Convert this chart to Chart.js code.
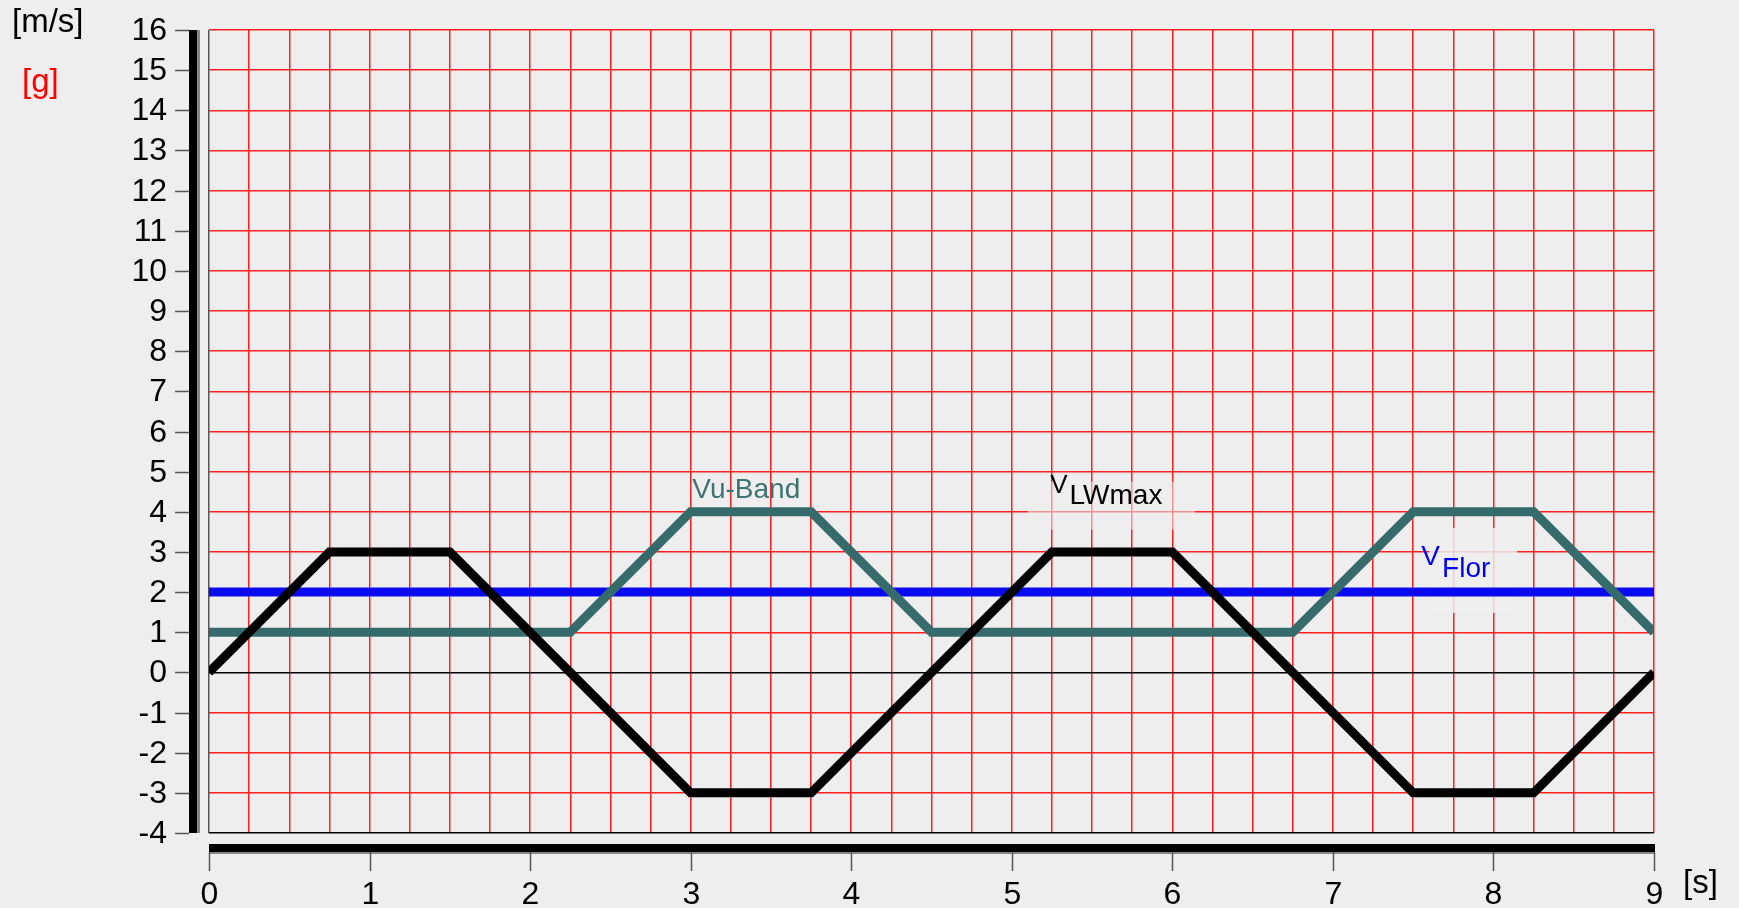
<!DOCTYPE html>
<html>
<head>
<meta charset="utf-8">
<script src="https://cdn.jsdelivr.net/npm/chart.js@4/dist/chart.umd.min.js"></script>
<style>
  html, body { margin: 0; padding: 0; background: #eeeeee; }
  canvas { display: block; }
</style>
</head>
<body>
<canvas id="chart" width="1739" height="908"></canvas>
<script>
// time axis [s] and the three curves
const lwTimes  = [0, 0.75, 1.5, 3, 3.75, 5.25, 6, 7.5, 8.25, 9];
const vLWmax   = [0, 3, 3, -3, -3, 3, 3, -3, -3, 0];
const bandTimes = [0, 2.25, 3, 3.75, 4.5, 6.75, 7.5, 8.25, 9];
const vuBand    = [1, 1, 4, 4, 1, 1, 4, 4, 1];
const florTimes = [0, 9];
const vFlor     = [2, 2];

const xTickLabels = [0, 1, 2, 3, 4, 5, 6, 7, 8, 9];
const yTickLabels = [-4, -3, -2, -1, 0, 1, 2, 3, 4, 5, 6, 7, 8, 9, 10, 11, 12, 13, 14, 15, 16];

const RED = '#ff1f1f';
const FONT = "'Liberation Sans', Arial, sans-serif";

function points(xs, ys) {
    return xs.map((x, i) => ({ x: x, y: ys[i] }));
}

// label backgrounds that cut the grid a little, like in the original
const labelBoxes = {
    id: 'labelBoxes',
    beforeDatasetsDraw(chart) {
        const ctx = chart.ctx;
        const x = chart.scales.x, y = chart.scales.y;
        ctx.save();
        ctx.fillStyle = 'rgba(238,238,238,0.55)';
        ctx.fillRect(x.getPixelForValue(5.1), y.getPixelForValue(4.75), 167, 48);
        ctx.fillStyle = 'rgba(238,238,238,0.85)';
        ctx.fillRect(x.getPixelForValue(7.6), y.getPixelForValue(3.6), 88, 85);
        ctx.restore();
    }
};

const frame = {
    id: 'frame',
    afterDraw(chart) {
        const ctx = chart.ctx;
        const xs = chart.scales.x, ys = chart.scales.y;
        const area = chart.chartArea;
        ctx.save();

        // thick axis bars
        ctx.fillStyle = '#888';
        ctx.fillRect(area.left - 20, area.top, 11, area.bottom - area.top);
        ctx.fillRect(area.left, area.bottom + 11, area.right - area.left + 1, 10);
        ctx.fillStyle = '#000';
        ctx.fillRect(area.left - 20, area.top, 8, area.bottom - area.top);
        ctx.fillRect(area.left, area.bottom + 11, area.right - area.left + 1, 8);

        // y ticks + labels
        ctx.strokeStyle = '#555';
        ctx.lineWidth = 1.5;
        ctx.fillStyle = '#000';
        ctx.font = '32px ' + FONT;
        ctx.textAlign = 'right';
        ctx.textBaseline = 'middle';
        yTickLabels.forEach(v => {
            const py = Math.round(ys.getPixelForValue(v)) + 0.5;
            ctx.beginPath();
            ctx.moveTo(area.left - 34, py);
            ctx.lineTo(area.left - 20, py);
            ctx.stroke();
            ctx.fillText(String(v), area.left - 42, py + 1);
        });

        // x ticks + labels
        ctx.textAlign = 'center';
        xTickLabels.forEach(v => {
            const px = Math.round(xs.getPixelForValue(v)) + 0.5;
            ctx.beginPath();
            ctx.moveTo(px, area.bottom + 19);
            ctx.lineTo(px, area.bottom + 38);
            ctx.stroke();
            ctx.fillText(String(v), px, area.bottom + 62);
        });

        // units
        ctx.font = '33px ' + FONT;
        ctx.textAlign = 'left';
        ctx.fillText('[m/s]', 12, 23);
        ctx.fillStyle = '#ff0000';
        ctx.fillText('[g]', 22, 83);
        ctx.fillStyle = '#000';
        ctx.fillText('[s]', area.right + 29, area.bottom + 51);

        // curve labels
        ctx.textBaseline = 'alphabetic';
        ctx.font = '28px ' + FONT;
        ctx.fillStyle = '#3d7272';
        ctx.fillText('Vu-Band', xs.getPixelForValue(3.01), ys.getPixelForValue(4.34));

        ctx.fillStyle = '#000';
        ctx.font = '26px ' + FONT;
        ctx.fillText('V', xs.getPixelForValue(5.24), ys.getPixelForValue(4.47));
        ctx.font = '28px ' + FONT;
        ctx.fillText('LWmax', xs.getPixelForValue(5.36), ys.getPixelForValue(4.2));

        ctx.fillStyle = '#0000ee';
        ctx.fillText('V', xs.getPixelForValue(7.55), ys.getPixelForValue(2.67));
        ctx.fillText('Flor', xs.getPixelForValue(7.68), ys.getPixelForValue(2.38));

        ctx.restore();
    }
};

new Chart(document.getElementById('chart').getContext('2d'), {
    type: 'line',
    data: {
        datasets: [
            {
                label: 'VLWmax',
                data: points(lwTimes, vLWmax),
                borderColor: '#000000',
                borderWidth: 9,
                order: 1
            },
            {
                label: 'Vu-Band',
                data: points(bandTimes, vuBand),
                borderColor: '#366b6b',
                borderWidth: 9,
                order: 2
            },
            {
                label: 'VFlor',
                data: points(florTimes, vFlor),
                borderColor: '#0a0af0',
                borderWidth: 9,
                order: 3
            }
        ]
    },
    options: {
        responsive: false,
        animation: false,
        events: [],
        elements: {
            point: { radius: 0 },
            line: { tension: 0, borderCapStyle: 'butt', borderJoinStyle: 'miter' }
        },
        layout: { padding: { left: 209, right: 85, top: 30, bottom: 75 } },
        plugins: {
            legend: { display: false },
            tooltip: { enabled: false }
        },
        scales: {
            x: {
                type: 'linear',
                min: 0,
                max: 9,
                border: { display: false },
                ticks: { display: false, stepSize: 0.25, maxTicksLimit: 100 },
                grid: {
                    drawTicks: false,
                    lineWidth: 1.5,
                    color: c => c.tick && c.tick.value === 0 ? '#555' : RED
                },
                afterFit: s => { s.height = 0; }
            },
            y: {
                type: 'linear',
                min: -4,
                max: 16,
                border: { display: false },
                ticks: { display: false, stepSize: 1, maxTicksLimit: 100 },
                grid: {
                    drawTicks: false,
                    lineWidth: 1.5,
                    color: c => c.tick && (c.tick.value === 0 || c.tick.value === -4) ? '#000' : RED
                },
                afterFit: s => { s.width = 0; }
            }
        }
    },
    plugins: [labelBoxes, frame]
});
</script>
</body>
</html>
